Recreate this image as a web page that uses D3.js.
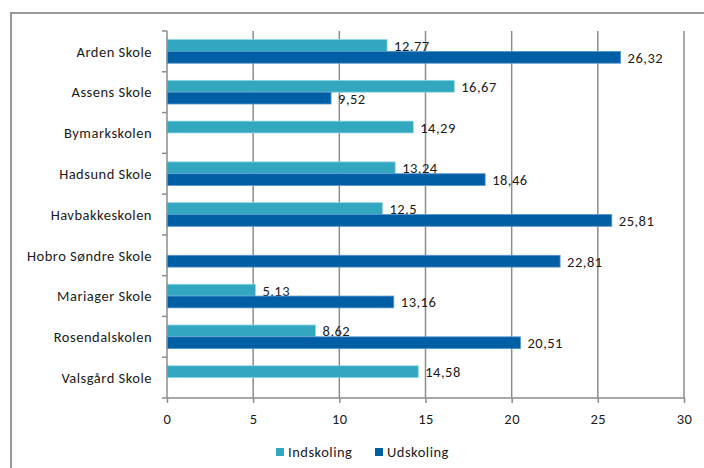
<!DOCTYPE html>
<html><head><meta charset="utf-8">
<script src="https://cdn.jsdelivr.net/npm/d3@7"></script>
<style>body{margin:0;background:#fff}svg{display:block}text{font-family:Carlito,Lato,"Open Sans",sans-serif;fill:#1a1a1a;letter-spacing:0.5px}</style>
</head><body>
<svg id="c" width="704" height="468"></svg>
<script>
const categories = ["Arden Skole","Assens Skole","Bymarkskolen","Hadsund Skole","Havbakkeskolen","Hobro Søndre Skole","Mariager Skole","Rosendalskolen","Valsgård Skole"];
const seriesNames = ["Indskoling","Udskoling"];
const indskoling = [12.77,16.67,14.29,13.24,12.5,null,5.13,8.62,14.58];
const udskoling = [26.32,9.52,null,18.46,25.81,22.81,13.16,20.51,null];
const tickValues = [0,5,10,15,20,25,30];
const colors = ["#33a6c0","#005ea4"];

const svg = d3.select("#c");
svg.append("rect").attr("x",11).attr("y",13).attr("width",720).attr("height",480)
  .attr("fill","none").attr("stroke","#9a9a9a").attr("stroke-width",2);

const m = {l:167,r:684,t:31,b:398};
const x = d3.scaleLinear().domain([0,30]).range([m.l,m.r]);
const y = d3.scaleBand().domain(categories).range([m.t,m.b]).paddingInner(0.42).paddingOuter(0.21);
const ys = d3.scaleBand().domain(seriesNames).range([0,y.bandwidth()]);
const fmt = v => String(v).replace(".",",");

// gridlines
svg.append("g").selectAll("line").data(tickValues.slice(1)).join("line")
  .attr("x1",d=>x(d)).attr("x2",d=>x(d)).attr("y1",m.t).attr("y2",m.b)
  .attr("stroke","#8c8c8c").attr("stroke-width",1.5);

// bars
const rows = categories.map((c,i)=>({c, vals:[indskoling[i],udskoling[i]]}));
const g = svg.append("g");
rows.forEach(r=>{
  r.vals.forEach((v,j)=>{
    if(v==null) return;
    const yy = y(r.c)+ys(seriesNames[j]);
    g.append("rect").attr("x",x(0)).attr("y",yy).attr("width",x(v)-x(0)).attr("height",ys.bandwidth())
      .attr("fill",colors[j]).attr("stroke",j==0?"#8fd6e6":"#5a96cc").attr("stroke-width",0.8);
    g.append("text").attr("x",x(v)+7).attr("y",yy+ys.bandwidth()/2).attr("dy","0.38em")
      .attr("font-size",14.5).text(fmt(v));
  });
});

// y axis
const ya = svg.append("g").attr("transform",`translate(${m.l},0)`)
  .call(d3.axisLeft(y).tickSize(0).tickPadding(15));
ya.select(".domain").attr("stroke","#8c8c8c").attr("stroke-width",1.5).attr("d",`M0,${m.t}V${m.b}`);
ya.selectAll("text").attr("font-size",14.5).attr("dy","0.36em");
// category boundary ticks
const bounds = d3.range(categories.length+1).map(i=>m.t + i*(m.b-m.t)/categories.length);
svg.append("g").selectAll("line").data(bounds).join("line")
  .attr("x1",m.l-5).attr("x2",m.l).attr("y1",d=>d).attr("y2",d=>d).attr("stroke","#8c8c8c").attr("stroke-width",1.5);

// x axis
const xa = svg.append("g").attr("transform",`translate(0,${m.b})`)
  .call(d3.axisBottom(x).tickValues(tickValues).tickSize(5).tickPadding(11).tickFormat(d3.format("d")));
xa.select(".domain").attr("stroke","#8c8c8c").attr("stroke-width",1.5).attr("d",`M${m.l},0H${m.r+1}`);
xa.selectAll(".tick line").attr("stroke","#8c8c8c").attr("stroke-width",1.5);
xa.selectAll("text").attr("font-size",14.5);

// legend
const lg = svg.append("g").attr("transform","translate(276,452)");
const lx = [0,99];
seriesNames.forEach((s,i)=>{
  lg.append("rect").attr("x",lx[i]).attr("y",-4).attr("width",8).attr("height",8).attr("fill",colors[i]);
  lg.append("text").attr("x",lx[i]+12).attr("y",0).attr("dy","0.36em").attr("font-size",14.5).text(s);
});
</script>
</body></html>
